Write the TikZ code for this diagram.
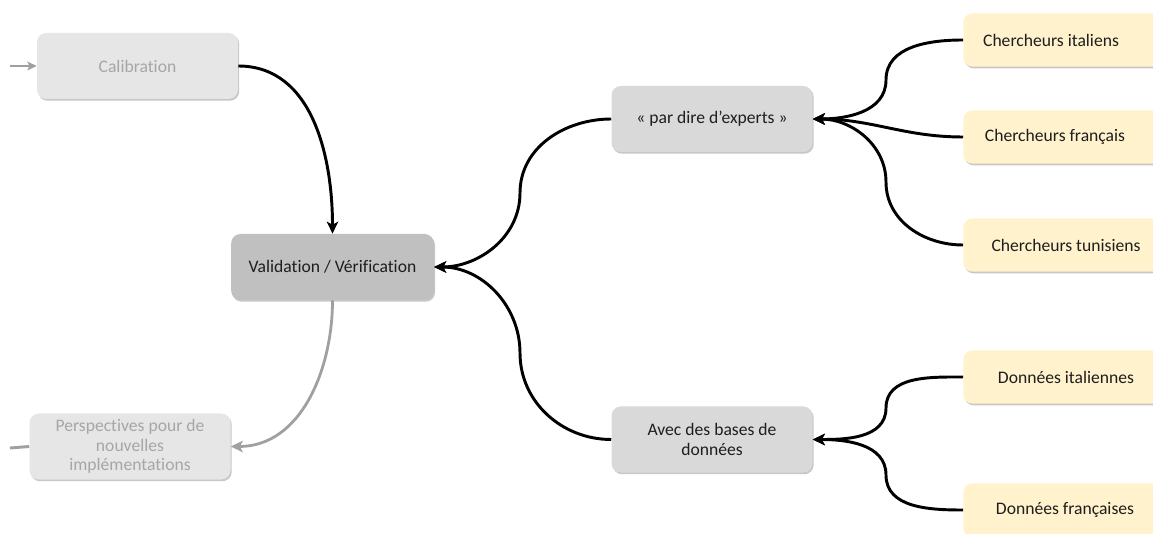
\documentclass[tikz,border=0pt]{standalone}
\usepackage{fontspec}
\setmainfont{Carlito}[Ligatures=NoCommon]
\usetikzlibrary{shadows,arrows.meta}
\definecolor{lightfill}{RGB}{230,230,230}
\definecolor{lighttext}{RGB}{166,166,166}
\definecolor{valfill}{RGB}{192,192,192}
\definecolor{midfill}{RGB}{217,217,217}
\definecolor{yelfill}{RGB}{255,242,204}
\definecolor{darktext}{RGB}{30,30,30}
\definecolor{grayline}{RGB}{160,160,160}
\begin{document}
\begin{tikzpicture}[x=0.75pt,y=-0.75pt,
  font=\fontsize{13.2}{14.8}\selectfont,
  boxshadow/.style={drop shadow={shadow xshift=0.9pt,shadow yshift=-1.3pt,fill=black,opacity=0.22}},
  basebox/.style={rounded corners=7pt,inner sep=0pt,align=center,boxshadow,
    minimum width=150.75pt,minimum height=49.5pt},
  lightbox/.style={basebox,fill=lightfill,text=lighttext},
  valbox/.style={basebox,fill=valfill,text=darktext,minimum width=152pt},
  midbox/.style={basebox,fill=midfill,text=darktext},
  ybox/.style={rounded corners=7pt,inner sep=0pt,boxshadow,fill=yelfill,
    minimum width=170pt,minimum height=40pt,anchor=west},
  ytext/.style={text=darktext,inner sep=0pt},
  conn/.style={line width=2.2pt,draw=black,-{Stealth[length=9pt,width=8.5pt,inset=2.2pt]}},
  gconn/.style={line width=2.1pt,draw=grayline,-{Stealth[length=9pt,width=8.5pt,inset=2.2pt]}},
  gline/.style={line width=2.2pt,draw=grayline}
]
\useasboundingbox (0,0) rectangle (1153,534);
\clip (0,0) rectangle (1153,534);

% main nodes
\node[lightbox] (cal) at (137.5,66) {Calibration};
\node[lightbox] (persp) at (130,446.5) {Perspectives pour de\\nouvelles\\implémentations};
\node[valbox] (val) at (332.5,267) {Validation / Vérification};
\node[midbox] (exp) at (712,119) {« par dire d’experts »};
\node[midbox] (bdd) at (712,439.5) {Avec des bases de\\[0.3pt]données};

% yellow boxes
\node[ybox] (ci) at (963,40) {};
\node[ybox] (cf) at (963,137) {};
\node[ybox] (ct) at (963,245) {};
\node[ybox] (di) at (963,377) {};
\node[ybox] (df) at (963,510) {};
\node[ytext] (tci) at (1051,40) {Chercheurs italiens};
\node[ytext] (tcf) at (1055,137) {Chercheurs français};
\node[ytext] (tct) at (1066,245) {Chercheurs tunisiens};
\node[ytext] (tdi) at (1066,377) {Données italiennes};
\node[ytext] (tdf) at (1065,510) {Données françaises};

% helper coordinates
\coordinate (calin) at (10,66);
\coordinate (perspout) at (10,448);
\coordinate (m1) at (520,193);
\coordinate (m2) at (520,353);
\coordinate (m3) at (886,80);
\coordinate (m4) at (886,182);
\coordinate (m5) at (886,408);
\coordinate (m6) at (886,475);

% left connectors
\draw[gconn,line width=1.8pt,-{Stealth[length=7pt,width=6.5pt,inset=1.5pt]}] (calin) -- (cal.west);
\draw[gline] (persp.west) -- (perspout);
\draw[conn] (cal.east) to[out=0,in=90] (val.north);
\draw[gconn] (val.south) to[out=-90,in=0] (persp.east);

% middle connectors
\draw[conn] (exp.west) to[out=180,in=90] (m1) to[out=-90,in=0] (val.east);
\draw[conn] (bdd.west) to[out=180,in=-90] (m2) to[out=90,in=0] (val.east);

% right connectors
\draw[conn] (ci.west) to[out=180,in=90] (m3) to[out=-90,in=0] (exp.east);
\draw[conn] (cf.west) to[out=180,in=0] (exp.east);
\draw[conn] (ct.west) to[out=180,in=-90] (m4) to[out=90,in=0] (exp.east);
\draw[conn] (di.west) to[out=180,in=90] (m5) to[out=-90,in=0] (bdd.east);
\draw[conn] (df.west) to[out=180,in=-90] (m6) to[out=90,in=0] (bdd.east);
\end{tikzpicture}
\end{document}
